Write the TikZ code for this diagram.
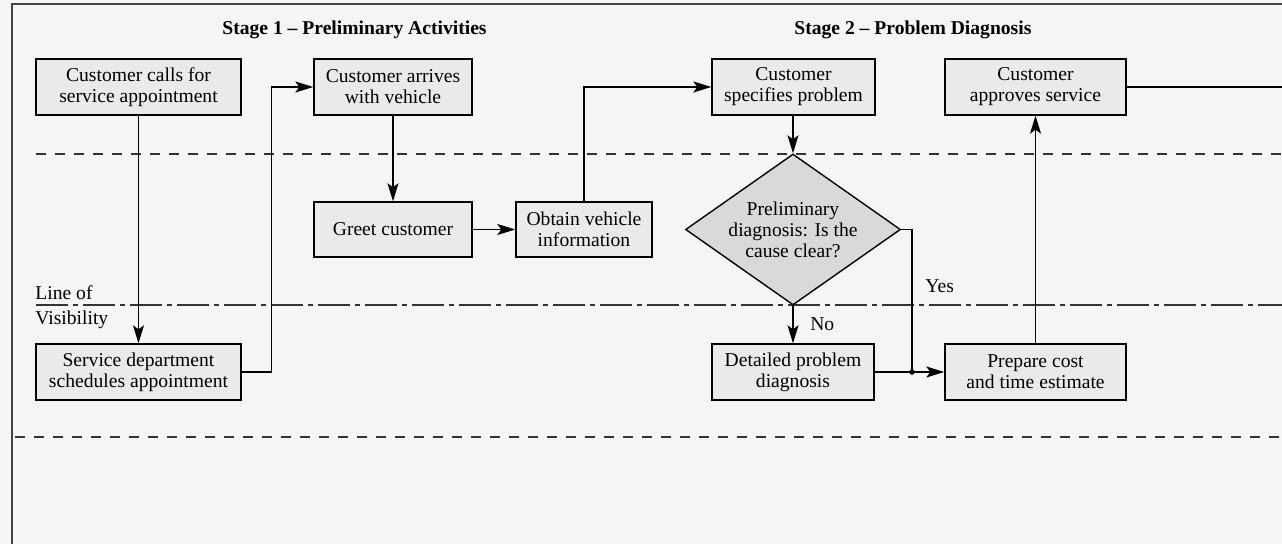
\documentclass[tikz,border=0pt]{standalone}
\usepackage{fontspec}
\setmainfont{Liberation Serif}
\usetikzlibrary{arrows.meta,shapes.geometric}
\definecolor{bggray}{HTML}{F5F5F5}
\definecolor{boxgray}{HTML}{EAEAEA}
\definecolor{diagray}{HTML}{D9D9D9}
\definecolor{framegray}{HTML}{444444}

\begin{document}
\begin{tikzpicture}[x=0.5pt,y=-0.5pt,
    font=\fontsize{9.8}{10.5}\selectfont,
    box/.style={draw,fill=boxgray,line width=0.7pt,align=center,
        inner sep=1pt,minimum height=28pt},
    choice/.style={diamond,draw,fill=diagray,line width=0.7pt,
        align=center,inner sep=0pt,aspect=1.42,minimum width=107.5pt,
        minimum height=75.5pt},
    arr/.style={-{Stealth[length=9pt,width=5.5pt,inset=2pt]},
        line width=0.6pt},
    zone/.style={draw=black!80,line width=0.6pt,
        dash pattern=on 5pt off 4.5pt},
    vis/.style={draw=black!80,line width=0.6pt,
        dash pattern=on 16pt off 2.5pt on 2.5pt off 2.5pt},
    title/.style={font=\fontsize{9.8}{10.5}\selectfont\bfseries,
        anchor=base west,inner sep=0pt}]

    % the sheet
    \fill[bggray] (0,0) rectangle (1282,544);
    \useasboundingbox (0,0) rectangle (1282,544);
    \draw[framegray,line width=0.75pt] (12,544) -- (12,4) -- (1282,4);

    % the zones
    \draw[zone] (36,154) -- (1282,154);
    \draw[vis] (36,305) -- (1282,305);
    \draw[zone] (15,437) -- (1282,437);
    \node[anchor=base west,inner sep=0pt] (lov) at (35,300) {Line of};
    \node[anchor=base west,inner sep=0pt] (vis) at (35,325) {Visibility};

    % the stages
    \node[title] (stage1) at (222,35) {Stage 1 -- Preliminary Activities};
    \node[title] (stage2) at (794,35) {Stage 2 -- Problem Diagnosis};

    % the steps
    \node[box,minimum width=102.5pt] (calls) at (138.5,87)
        {Customer calls for\\service appointment};
    \node[box,minimum width=79pt] (arrives) at (393,87)
        {Customer arrives\\with vehicle};
    \node[box,minimum width=81.5pt] (specifies) at (793.5,87)
        {Customer\\specifies problem};
    \node[box,minimum width=90.5pt] (approves) at (1035.5,87)
        {Customer\\approves service};
    \node[box,minimum width=79pt,minimum height=27.5pt] (greet)
        at (393,229.5) {Greet customer};
    \node[box,minimum width=68pt,minimum height=27.5pt] (obtain)
        at (584,229.5) {Obtain vehicle\\information};
    \node[choice] (cause) at (793,229.5)
        {Preliminary\\diagnosis: Is the\\cause clear?};
    \node[box,minimum width=102.5pt] (sched) at (138.5,372)
        {Service department\\schedules appointment};
    \node[box,minimum width=81pt] (detail) at (793,372)
        {Detailed problem\\diagnosis};
    \node[box,minimum width=90.5pt] (prepare) at (1035.5,372)
        {Prepare cost\\and time estimate};
    \coordinate (jn) at (912,372);
    \coordinate (exit) at (1282,87);

    % the flow
    \draw[arr] (calls) -- (sched);
    \draw[arr] (sched.east) -- ++(29.5,0) |- (arrives.west);
    \draw[arr] (arrives) -- (greet);
    \draw[arr] (greet) -- (obtain);
    \draw[arr] (obtain.north) |- (specifies.west);
    \draw[arr] (cause.north |- specifies.south) -- (cause.north);
    \draw[arr] (cause) -- node[right=5pt] (no) {No} (detail);
    \draw[line width=0.6pt] (cause.east) -| (jn);
    \node[anchor=base west,inner sep=0pt] (yes) at (925,293) {Yes};
    \draw[arr] (detail) -- (prepare);
    \fill (jn) circle (1.4pt);
    \draw[arr] (prepare) -- (approves);
    \draw[line width=0.6pt] (approves.east) -- (exit);

\end{tikzpicture}
\end{document}
